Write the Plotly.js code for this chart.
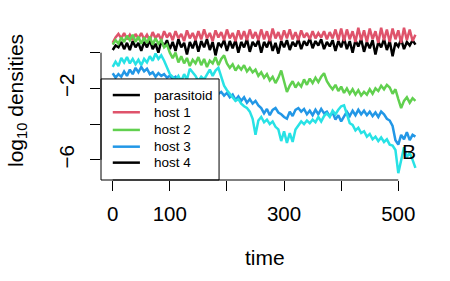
<!DOCTYPE html>
<html>
<head>
<meta charset="utf-8">
<script src="https://cdn.plot.ly/plotly-3.0.1.min.js"></script>
<style>html,body{margin:0;padding:0;background:#fff;}#chart{width:450px;height:281px;}</style>
</head>
<body>
<div id="chart"></div>
<script>
// time points
const time = [0,5,10,15,20,25,30,35,40,45,
  50,55,60,65,70,75,80,85,90,95,
  100,105,110,115,120,125,130,135,140,145,
  150,155,160,165,170,175,180,185,190,195,
  200,205,210,215,220,225,230,235,240,245,
  250,255,260,265,270,275,280,285,290,295,
  300,305,310,315,320,325,330,335,340,345,
  350,355,360,365,370,375,380,385,390,395,
  400,405,410,415,420,425,430,435,440,445,
  450,455,460,465,470,475,480,485,490,495,
  500,505,510,515,520,525,530];

const seriesNames = ["parasitoid", "host 1", "host 2", "host 3", "host 4"];

const parasitoid = [0.15,0.4,0.3,0.6,0.2,0.55,0.15,0.65,0.3,0.55,
  0.1,0.6,0.3,0.7,0.2,0.5,0.0,0.65,0.35,0.7,
  0.2,0.6,0.1,0.75,0.3,0.55,-0.1,0.6,0.25,0.7,
  0.05,0.65,0.3,0.75,0.15,0.6,-0.15,0.55,0.35,0.7,
  0.1,0.65,0.25,0.7,0.0,0.6,0.3,0.75,0.05,0.6,
  0.35,0.7,0.0,0.6,0.3,0.75,0.1,0.55,-0.05,0.65,
  0.3,0.7,0.15,0.6,0.35,0.75,0.2,0.65,0.4,0.8,
  0.25,0.65,0.4,0.75,0.2,0.6,0.35,0.7,0.1,0.65,
  0.3,0.8,0.2,0.65,0.0,0.7,0.35,0.75,0.05,0.6,
  0.25,0.7,-0.1,0.6,0.3,0.75,0.15,0.65,-0.2,0.55,
  0.35,0.75,0.2,0.6,0.4,0.7,0.45];

const host1 = [0.55,0.85,1.05,0.8,1.1,0.75,1.0,0.7,1.05,0.8,
  1.1,0.75,1.0,0.7,1.15,0.8,1.05,0.7,1.2,0.85,
  1.1,0.7,1.2,0.8,1.05,0.65,1.25,0.8,1.1,0.7,
  1.2,0.75,1.3,0.8,1.1,0.65,1.25,0.85,1.15,0.7,
  1.3,0.8,1.1,0.65,1.25,0.75,1.2,0.7,1.3,0.8,
  1.15,0.7,1.3,0.75,1.2,0.65,1.35,0.8,1.15,0.7,
  1.25,0.8,1.3,0.75,1.15,0.7,1.25,0.85,1.1,0.75,
  1.2,0.8,1.1,0.85,1.2,0.75,1.15,0.8,1.3,0.7,
  1.35,0.65,1.3,0.75,1.2,0.6,1.4,0.7,1.25,0.6,
  1.35,0.75,1.2,0.55,1.4,0.7,1.3,0.6,1.35,0.75,
  1.25,0.55,1.4,0.7,1.3,0.65,1.0];

const host2 = [0.45,0.7,0.5,0.85,0.6,0.95,0.7,1.0,0.6,0.9,
  0.5,0.85,0.55,0.9,0.45,0.8,0.5,0.7,0.3,0.45,
  0.0,-0.3,0.0,-0.55,-0.2,-0.6,-0.3,-0.75,-0.4,-0.6,
  -0.25,-0.7,-0.35,-0.8,-0.45,-0.6,-0.25,-0.7,-0.35,-0.15,
  -0.6,-0.85,-0.65,-1.0,-0.75,-0.95,-0.7,-1.05,-0.85,-1.1,
  -0.95,-1.3,-1.1,-1.4,-1.2,-1.55,-1.35,-1.7,-1.4,-1.0,
  -1.6,-2.2,-1.85,-1.6,-1.95,-1.7,-1.9,-1.5,-1.8,-1.45,
  -1.7,-1.4,-1.65,-1.35,-1.15,-1.6,-1.85,-2.05,-1.8,-2.15,
  -1.9,-2.25,-2.0,-2.3,-2.05,-2.35,-2.1,-2.4,-2.2,-2.35,
  -2.05,-2.3,-2.0,-2.15,-1.85,-2.05,-1.8,-1.95,-2.3,-2.05,
  -2.6,-3.1,-2.7,-2.5,-2.8,-2.55,-2.7];

const host3 = [-1.15,-1.4,-1.2,-1.35,-1.05,-1.3,-0.95,-1.2,-0.85,-1.1,
  -0.8,-1.05,-0.9,-1.2,-1.1,-1.35,-1.15,-1.3,-1.2,-1.4,
  -1.3,-1.45,-1.35,-1.6,-1.5,-1.7,-1.6,-1.8,-1.75,-1.9,
  -1.85,-2.0,-1.9,-2.1,-2.05,-2.2,-2.1,-2.3,-2.2,-2.4,
  -2.25,-2.5,-2.35,-2.65,-2.45,-2.7,-2.5,-2.8,-2.6,-2.85,
  -2.7,-2.95,-3.1,-3.4,-3.15,-3.5,-3.2,-3.1,-3.35,-3.45,
  -3.6,-3.7,-3.3,-3.55,-3.2,-3.1,-3.3,-3.15,-3.45,-3.25,
  -3.5,-3.2,-3.45,-3.15,-3.4,-3.3,-3.55,-3.35,-3.75,-3.5,
  -3.85,-3.6,-3.3,-3.55,-3.25,-3.5,-3.2,-3.45,-3.25,-3.5,
  -3.3,-3.55,-3.35,-3.6,-3.3,-3.45,-3.7,-3.8,-4.1,-4.9,
  -5.15,-4.6,-4.85,-4.45,-4.9,-4.6,-4.7];

const host4 = [-0.8,-0.5,-0.75,-0.3,-0.55,-0.25,-0.6,-0.35,-0.65,-0.4,
  -0.7,-0.35,-0.55,-0.2,-0.45,-0.05,-0.35,-0.15,-0.45,-0.8,
  -1.2,-1.35,-1.55,-1.3,-1.6,-1.2,-1.5,-0.9,-1.1,-1.3,
  -1.6,-1.35,-1.5,-1.2,-0.95,-1.3,-1.0,-0.85,-1.4,-1.85,
  -2.1,-2.3,-2.45,-2.7,-2.6,-2.85,-3.0,-3.1,-3.3,-3.7,
  -4.6,-3.8,-3.6,-3.9,-3.75,-4.0,-3.85,-4.15,-4.3,-4.95,
  -4.4,-5.05,-4.5,-5.0,-4.3,-4.1,-3.85,-4.0,-3.8,-3.95,
  -3.75,-3.9,-3.6,-3.85,-3.55,-3.4,-3.6,-3.25,-3.45,-3.2,
  -3.0,-2.95,-3.4,-3.95,-4.05,-4.35,-4.2,-4.5,-4.4,-4.7,
  -4.55,-4.85,-4.7,-4.95,-4.75,-5.0,-4.85,-5.15,-5.2,-5.45,
  -6.75,-6.0,-5.3,-5.85,-5.6,-6.0,-6.45];

const lineColors = ["#000000", "#DF536B", "#61D04F", "#2297E6", "#28E2E5"];
const legendColors = ["#000000", "#DF536B", "#61D04F", "#2297E6", "#000000"];

// labelled ticks and unlabelled ticks (R drops overlapping labels)
const xTickVals = [0, 100, 300, 500];
const xTickText = ["0", "100", "300", "500"];
const xBareTicks = [200, 400];
const yTickVals = [-2, -6];
const yTickText = ["\u22122", "\u22126"];
const yBareTicks = [0, -4];

const allSeries = [parasitoid, host1, host2, host3, host4];
const traces = allSeries.map((ys, i) => ({
  x: time, y: ys, type: "scatter", mode: "lines", name: seriesNames[i],
  line: {color: lineColors[i], width: 2.5}, showlegend: false, hoverinfo: "skip"
}));

const FONT = "Liberation Sans, Arial, Helvetica, sans-serif";

// legend drawn as box + samples
const legY = [0.548, 0.437, 0.323, 0.215, 0.112];
const shapes = [
  {type: "rect", xref: "paper", yref: "paper", x0: 0, x1: 0.361, y0: 0.0, y1: 0.652,
   fillcolor: "#ffffff", line: {color: "#000000", width: 1}, layer: "above"},
  // axis lines (span the tick range like R)
  {type: "line", xref: "x", yref: "paper", x0: 0, x1: 500, y0: 0, y1: 0,
   line: {color: "#000000", width: 1}, layer: "above"},
  {type: "line", xref: "paper", yref: "y", x0: 0, x1: 0, y0: 0, y1: -6,
   line: {color: "#000000", width: 1}, layer: "above"}
];
const annotations = [];
seriesNames.forEach((nm, i) => {
  shapes.push({type: "line", xref: "paper", yref: "paper", x0: 0.036, x1: 0.119,
    y0: legY[i], y1: legY[i], line: {color: legendColors[i], width: 2.5}, layer: "above"});
  annotations.push({xref: "paper", yref: "paper", x: 0.156, y: legY[i], text: nm,
    showarrow: false, xanchor: "left", yanchor: "middle",
    font: {family: FONT, size: 13.5, color: "#000"}});
});
annotations.push({xref: "paper", yref: "paper", x: 0.942, y: 0.184, text: "B",
  showarrow: false, xanchor: "center", yanchor: "middle",
  font: {family: FONT, size: 21, color: "#000"}});
annotations.push({xref: "paper", yref: "paper", x: 0.5, y: -0.503, text: "time",
  showarrow: false, xanchor: "center", yanchor: "middle",
  font: {family: FONT, size: 21, color: "#000"}});
annotations.push({xref: "paper", yref: "paper", x: -0.257, y: 0.516,
  text: "log<sub>10</sub> densities", textangle: -90,
  showarrow: false, xanchor: "center", yanchor: "middle",
  font: {family: FONT, size: 21, color: "#000"}});

const layout = {
  width: 450, height: 281,
  margin: {l: 101, r: 22, t: 25, b: 101, pad: 0},
  paper_bgcolor: "#ffffff", plot_bgcolor: "#ffffff",
  showlegend: false,
  font: {family: FONT, color: "#000"},
  xaxis: {range: [-20.5, 552], showgrid: false, zeroline: false, showline: false,
    tickmode: "array", tickvals: xTickVals, ticktext: xTickText, ticks: "outside", ticklen: 10,
    tickwidth: 1, tickcolor: "#000", ticklabelstandoff: 5,
    tickfont: {family: FONT, size: 20.5, color: "#000"},
    minor: {tickmode: "array", tickvals: xBareTicks, ticks: "outside", ticklen: 10,
      tickwidth: 1, tickcolor: "#000", showgrid: false}},
  yaxis: {range: [-7.13, 1.55], showgrid: false, zeroline: false, showline: false,
    tickmode: "array", tickvals: yTickVals, ticktext: yTickText, ticks: "outside", ticklen: 10,
    tickwidth: 1, tickcolor: "#000", tickangle: -90, ticklabelstandoff: 8,
    tickfont: {family: FONT, size: 20.5, color: "#000"},
    minor: {tickmode: "array", tickvals: yBareTicks, ticks: "outside", ticklen: 10,
      tickwidth: 1, tickcolor: "#000", showgrid: false}},
  shapes: shapes,
  annotations: annotations
};

Plotly.newPlot("chart", traces, layout, {staticPlot: true, displayModeBar: false});
</script>
</body>
</html>
